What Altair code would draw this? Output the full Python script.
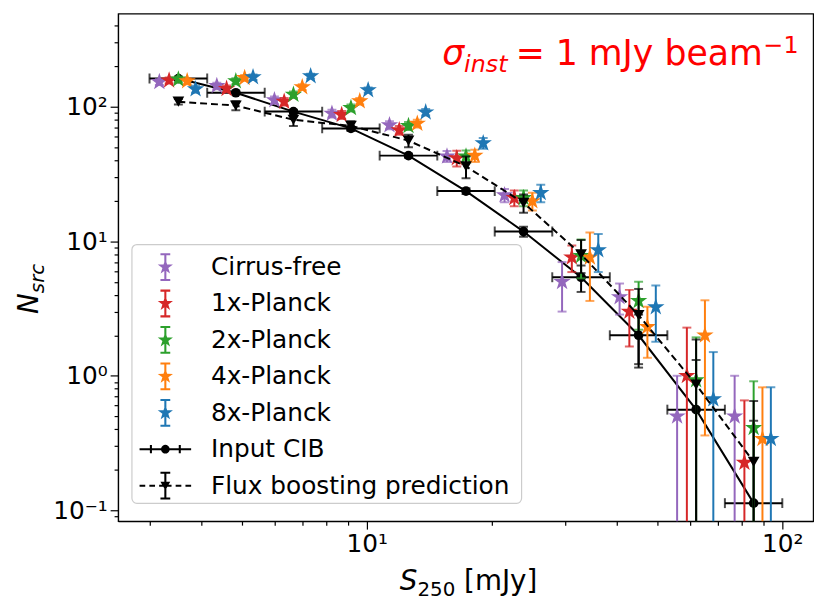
import math
import altair as alt
import pandas as pd

# ---------------- data ----------------
S_edges = [3.0, 4.13, 5.68, 7.81, 10.74, 14.78, 20.32, 27.95, 38.45, 52.89, 72.75, 100.0]
S_cen = [3.52, 4.84, 6.66, 9.16, 12.60, 17.33, 23.84, 32.79, 45.10, 62.03, 85.32]

series = ["Cirrus-free", "1x-Planck", "2x-Planck", "4x-Planck", "8x-Planck"]
colors = ["#9467bd", "#d62728", "#2ca02c", "#ff7f0e", "#1f77b4"]
x_shift = [0.9, 0.95, 1.0, 1.05, 1.1]

N_cirrus_free = [153, 143, 112, 89, 73, 42.8, 22.0, 5.0, 3.85, 0.50, 0.50]
E_cirrus_free = [8, 8, 7, 6, 5, 4, 2.5, 2.0, 1.0, 0.5, 0.5]
N_1x = [157, 136, 109, 87, 67, 41.5, 21.0, 7.6, 3.0, 1.0, 0.226]
E_1x = [8, 8, 7, 6, 5, 5.5, 2.8, 1.7, 1.35, 1.28, 0.43]
N_2x = [160, 155, 123, 98, 72, 42.8, 21.0, 7.8, 3.6, 0.93, 0.41]
E_2x = [8, 8, 7, 6, 5, 4.5, 2.8, 2.5, 1.4, 1.0, 0.5]
N_4x = [155, 164, 140, 110, 75, 43.3, 19.9, 7.6, 2.31, 2.0, 0.34]
E_4x = [8, 8, 7, 6, 5, 4.5, 3.0, 4.0, 0.95, 1.64, 0.48]
N_8x = [135, 166, 169, 133, 91, 53.6, 22.9, 8.6, 3.24, 0.67, 0.34]
E_8x = [8, 8, 7, 6, 5, 5.0, 3.4, 2.7, 1.45, 0.83, 0.48]

N_cib = [162, 127, 92, 69, 43.3, 23.6, 11.8, 5.4, 2.0, 0.56, 0.113]
E_cib = [3, 3, 2.5, 2, 1.5, 1.2, 1.0, 1.2, 0.85, 0.75, 0.35]
N_fb = [109, 102, 80, 72, 56, 36, 19.3, 8.0, 2.82, 0.86, 0.229]
E_fb = [5, 8, 8, 6, 6, 6.6, 3.0, 2.2, 1.6, 1.0, 0.42]

legend_labels = series + ["Input CIB", "Flux boosting prediction"]

x_ticks = [3, 4, 5, 6, 7, 8, 9, 10, 20, 30, 40, 50, 60, 70, 80, 90, 100]
y_ticks = [0.09, 0.1, 0.2, 0.3, 0.4, 0.5, 0.6, 0.7, 0.8, 0.9, 1, 2, 3, 4, 5, 6, 7, 8, 9,
           10, 20, 30, 40, 50, 60, 70, 80, 90, 100, 200, 300, 400]

# ---------------- helpers ----------------
FONT = "DejaVu Sans"
N_vals = [N_cirrus_free, N_1x, N_2x, N_4x, N_8x]
E_vals = [E_cirrus_free, E_1x, E_2x, E_4x, E_8x]


def lo_of(n, e):
    v = n - e
    return v if v > 0 else 1e-4


def star_path(cx, cy, R, r):
    pts = []
    for k in range(10):
        ang = math.radians(-90 + 36 * k)
        rad = R if k % 2 == 0 else r
        pts.append((cx + rad * math.cos(ang), cy + rad * math.sin(ang)))
    return "M" + " L".join(f"{x:.4f},{y:.4f}" for x, y in pts) + " Z"


def rect_path(x0, y0, x1, y1):
    return f"M{x0:.4f},{y0:.4f} L{x1:.4f},{y0:.4f} L{x1:.4f},{y1:.4f} L{x0:.4f},{y1:.4f} Z"


def circle_path(cx, cy, r, n=20):
    pts = []
    for k in range(n):
        ang = 2 * math.pi * k / n
        pts.append((cx + r * math.cos(ang), cy + r * math.sin(ang)))
    return "M" + " L".join(f"{x:.4f},{y:.4f}" for x, y in pts) + " Z"


STAR = star_path(0, 0, 1, 0.382)

xs = alt.Scale(type="log", domain=[2.52, 118.6], nice=False)
ys = alt.Scale(type="log", domain=[0.083, 493], nice=False)
major = "abs(log(datum.value)/LN10 - round(log(datum.value)/LN10)) < 0.001"

x_axis = alt.Axis(values=x_ticks, title="", grid=False,
                  labelExpr="datum.value == 10 ? '10¹' : (datum.value == 100 ? '10²' : '')",
                  labelFont=FONT, labelFontSize=25, labelColor="black", labelPadding=3,
                  labelOverlap=False, labelFlush=False,
                  tickColor="black", domainColor="black", tickWidth=1.2,
                  tickSize={"condition": {"test": major, "value": 8}, "value": 4})
y_axis = alt.Axis(values=y_ticks, title="", grid=False,
                  labelExpr="datum.value == 0.1 ? '10⁻¹' : (datum.value == 1 ? '10⁰' : (datum.value == 10 ? '10¹' : (datum.value == 100 ? '10²' : '')))",
                  labelFont=FONT, labelFontSize=25, labelColor="black", labelPadding=3,
                  labelOverlap=False, labelFlush=False,
                  tickColor="black", domainColor="black", tickWidth=1.2,
                  tickSize={"condition": {"test": major, "value": 8}, "value": 4})


def X(f):
    return alt.X(f, type="quantitative", scale=xs, axis=x_axis)


def Y(f):
    return alt.Y(f, type="quantitative", scale=ys, axis=y_axis)


layers = []

# ---------------- Input CIB (drawn first) ----------------
cib = pd.DataFrame({
    "S": S_cen, "N": N_cib,
    "lo": [lo_of(n, e) for n, e in zip(N_cib, E_cib)],
    "hi": [n + e for n, e in zip(N_cib, E_cib)],
    "xl": S_edges[:-1], "xr": S_edges[1:],
})
base_cib = alt.Chart(cib)
layers += [
    base_cib.mark_line(color="black", strokeWidth=2, clip=True).encode(x=X("S"), y=Y("N")),
    base_cib.mark_rule(color="black", strokeWidth=2, clip=True).encode(x=X("xl"), x2="xr", y=Y("N")),
    base_cib.mark_tick(color="black", orient="vertical", size=10, thickness=2, clip=True).encode(x=X("xl"), y=Y("N")),
    base_cib.mark_tick(color="black", orient="vertical", size=10, thickness=2, clip=True).encode(x=X("xr"), y=Y("N")),
    base_cib.mark_rule(color="black", strokeWidth=2, clip=True).encode(x=X("S"), y=Y("lo"), y2="hi"),
    base_cib.mark_tick(color="black", orient="horizontal", size=9, thickness=2, clip=True).encode(x=X("S"), y=Y("lo")),
    base_cib.mark_tick(color="black", orient="horizontal", size=9, thickness=2, clip=True).encode(x=X("S"), y=Y("hi")),
    base_cib.mark_point(shape="circle", filled=True, color="black", size=95, opacity=1, clip=True).encode(x=X("S"), y=Y("N")),
]

# ---------------- simulated series (stars) ----------------
for name, col, fac, nv, ev in zip(series, colors, x_shift, N_vals, E_vals):
    d = pd.DataFrame({
        "S": [c * fac for c in S_cen], "N": nv,
        "lo": [lo_of(n, e) for n, e in zip(nv, ev)],
        "hi": [n + e for n, e in zip(nv, ev)],
    })
    b = alt.Chart(d)
    layers += [
        b.mark_rule(color=col, strokeWidth=2, clip=True).encode(x=X("S"), y=Y("lo"), y2="hi"),
        b.mark_tick(color=col, orient="horizontal", size=9, thickness=2, clip=True).encode(x=X("S"), y=Y("lo")),
        b.mark_tick(color=col, orient="horizontal", size=9, thickness=2, clip=True).encode(x=X("S"), y=Y("hi")),
        b.mark_point(shape=STAR, filled=True, color=col, size=340, opacity=1, strokeWidth=0, clip=True).encode(x=X("S"), y=Y("N")),
    ]

# ---------------- flux boosting prediction ----------------
fb = pd.DataFrame({
    "S": S_cen, "N": N_fb,
    "lo": [lo_of(n, e) for n, e in zip(N_fb, E_fb)],
    "hi": [n + e for n, e in zip(N_fb, E_fb)],
})
bf = alt.Chart(fb)
layers += [
    bf.mark_line(color="black", strokeWidth=2, strokeDash=[7, 4], clip=True).encode(x=X("S"), y=Y("N")),
    bf.mark_rule(color="black", strokeWidth=2, clip=True).encode(x=X("S"), y=Y("lo"), y2="hi"),
    bf.mark_tick(color="black", orient="horizontal", size=9, thickness=2, clip=True).encode(x=X("S"), y=Y("lo")),
    bf.mark_tick(color="black", orient="horizontal", size=9, thickness=2, clip=True).encode(x=X("S"), y=Y("hi")),
    bf.mark_point(shape="triangle-down", filled=True, color="black", size=140, opacity=1, clip=True).encode(x=X("S"), y=Y("N")),
]

# ---------------- legend (manual) ----------------
t = 0.04  # half line thickness in glyph units (1 unit = 26 px)
err_glyph = (rect_path(-t, -0.54, t, 0.54) + " " + rect_path(-0.19, -0.54, 0.19, -0.54 + 2 * t) + " "
             + rect_path(-0.19, 0.54 - 2 * t, 0.19, 0.54))
star_glyph = err_glyph + " " + star_path(0, 0, 0.31, 0.12)
cib_glyph = (rect_path(-1.0, -t, 1.0, t) + " " + rect_path(-0.56 - t, -0.16, -0.56 + t, 0.16) + " "
             + rect_path(0.56 - t, -0.16, 0.56 + t, 0.16) + " " + circle_path(0, 0, 0.17))
dashes = [(-1.0, -0.78), (-0.62, -0.40), (-0.24, -0.02), (0.02, 0.24), (0.40, 0.62), (0.78, 1.0)]
fb_glyph = (" ".join(rect_path(a, -t, b, t) for a, b in dashes) + " " + err_glyph + " "
            + "M-0.19,-0.15 L0.19,-0.15 L0,0.18 Z")

leg = pd.DataFrame({
    "label": legend_labels,
    "path": [star_glyph] * 5 + [cib_glyph, fb_glyph],
    "color": colors + ["black", "black"],
    "ypix": [255.7 + 36.75 * i for i in range(7)],
})
box = pd.DataFrame({"a": [0]})
layers += [
    alt.Chart(box).mark_rect(fill="white", fillOpacity=0.85, stroke="#cccccc", strokeWidth=1.2,
                             cornerRadius=5).encode(
        x=alt.value(14), x2=alt.value(407), y=alt.value(233), y2=alt.value(494)),
    alt.Chart(leg).mark_point(filled=True, size=2704, opacity=1, strokeWidth=0).encode(
        x=alt.value(47.7), y=alt.Y("ypix:Q", scale=None),
        shape=alt.Shape("path:N", scale=None), color=alt.Color("color:N", scale=None)),
    alt.Chart(leg).mark_text(align="left", baseline="middle", font=FONT, fontSize=25, color="black").encode(
        x=alt.value(93.7), y=alt.Y("ypix:Q", scale=None), text="label:N"),
]

# ---------------- annotation & axis titles ----------------
txt = pd.DataFrame({"a": [0]})


def label(text, x, y, size, style="normal", color="black", angle=0, align="left"):
    kw = dict(align=align, baseline="alphabetic", font=FONT, fontSize=size, fontStyle=style,
              color=color, text=text)
    if angle:
        kw["angle"] = angle
    return alt.Chart(txt).mark_text(**kw).encode(x=alt.value(x), y=alt.value(y))


RED = "#ff0000"
layers += [
    label("σ", 327, 52, 35, "italic", RED),
    label("inst", 349, 59, 24, "italic", RED),
    label("= 1 mJy beam", 401, 52, 35, "normal", RED),
    label("−1", 651, 40, 24, "normal", RED),
    # x title
    label("S", 284, 581, 28, "italic"),
    label("250", 302, 587, 20, "normal"),
    label("[mJy]", 349, 581, 28, "normal"),
    # y title
    label("N", -81, 303, 28, "italic", angle=270),
    label("src", -75, 282, 20, "italic", angle=270),
]

chart = alt.layer(*layers).properties(
    width=701, height=512,
    autosize=alt.AutoSizeParams(type="none"),
    padding={"left": 111, "top": 3, "right": 10, "bottom": 85},
).configure_view(stroke="black", strokeWidth=1.2).configure_axis(domainWidth=1.2)

chart.save("out.html", embed_options={"renderer": "svg", "actions": False})
